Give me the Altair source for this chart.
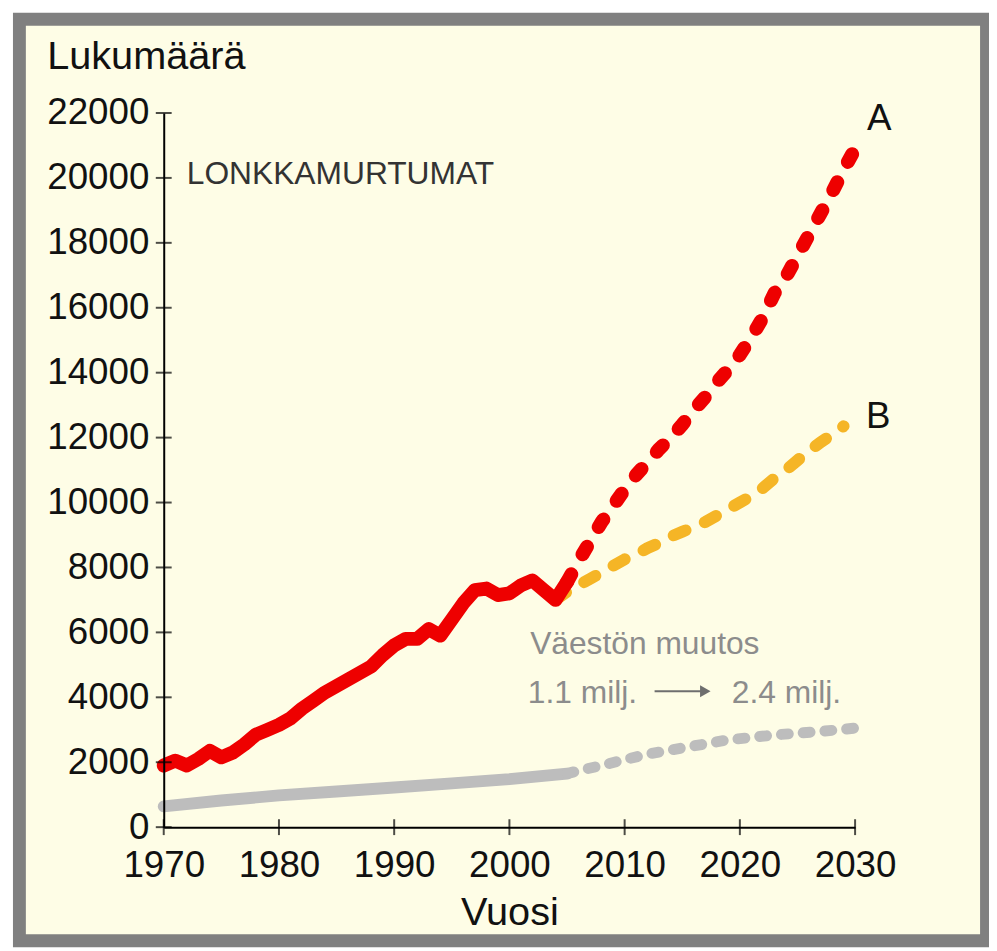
import altair as alt
import pandas as pd

# ---- data ----
years_hist = list(range(1970, 2006))
fractures_hist = [1900, 2050, 1900, 2100, 2350, 2150, 2300, 2550, 2850, 3000,
                  3150, 3350, 3650, 3900, 4150, 4350, 4550, 4750, 4950, 5300,
                  5600, 5800, 5800, 6100, 5900, 6400, 6900, 7300, 7350, 7150,
                  7200, 7450, 7600, 7300, 7000, 7550]

years_a = list(range(2005, 2031))
proj_a = [7550, 8200, 8800, 9400, 9900, 10400, 10850, 11250, 11650, 12000,
          12400, 12850, 13250, 13700, 14100, 14550, 15100, 15700, 16450, 16950,
          17600, 18250, 18900, 19550, 20250, 20900]

years_b = list(range(2004, 2030))
proj_b = [7000, 7250, 7450, 7650, 7850, 8050, 8250, 8400, 8600, 8750,
          8950, 9100, 9250, 9400, 9600, 9800, 10000, 10200, 10450, 10750,
          11000, 11300, 11600, 11850, 12100, 12350]

years_pop_hist = [1970, 1975, 1980, 1985, 1990, 1995, 2000, 2005]
pop_hist = [640, 820, 980, 1100, 1220, 1350, 1480, 1650]

years_pop_proj = [2005, 2006, 2008, 2010, 2012, 2015, 2019, 2023, 2027, 2030]
pop_proj = [1650, 1740, 1900, 2080, 2250, 2440, 2690, 2840, 2950, 3050]

x_ticks = [1970, 1980, 1990, 2000, 2010, 2020, 2030]
y_ticks = list(range(0, 22001, 2000))

# annotations: (text, x, y)
title_text = ("LONKKAMURTUMAT", 1972.0, 19800)
label_a = ("A", 2032.1, 21480)
label_b = ("B", 2032.0, 12310)
pop_title = ("Väestön muutos", 2001.8, 5347)
pop_from = ("1.1 milj.", 2001.6, 3819)
pop_to = ("2.4 milj.", 2019.3, 3819)
arrow_x = [2012.6, 2017.0]
arrow_y = 4186

FONT = "Liberation Sans"
W, H = 697, 720
BG = "#fefde6"
FRAME = "#808080"

xscale = alt.Scale(domain=[1970, 2030], nice=False, zero=False)
yscale = alt.Scale(domain=[0, 22000], nice=False)

xaxis = alt.Axis(values=x_ticks, ticks=False, tickSize=0, grid=False, zindex=2,
                 domainColor="black", domainWidth=2, format="d",
                 labelFont=FONT, labelFontSize=37, labelColor="#111111",
                 labelPadding=50, labelBaseline="alphabetic", labelFlush=False,
                 labelOverlap=False,
                 title="Vuosi", titleFont=FONT, titleFontSize=40,
                 titleFontWeight="normal", titleColor="#111111",
                 titleBaseline="alphabetic", titleAlign="center",
                 titleX=W / 2, titleY=98)
yaxis = alt.Axis(values=y_ticks, ticks=False, tickSize=0, grid=False, zindex=2,
                 domainColor="black", domainWidth=2, format="d",
                 labelFont=FONT, labelFontSize=37, labelColor="#111111",
                 labelPadding=15, labelBaseline="middle", labelFlush=False,
                 labelOverlap=False,
                 title="Lukumäärä", titleFont=FONT, titleFontSize=40,
                 titleFontWeight="normal", titleColor="#111111",
                 titleAngle=0, titleAlign="left", titleBaseline="alphabetic",
                 titleX=-118, titleY=-45)

X = alt.X("Vuosi:Q", scale=xscale, axis=xaxis)
Y = alt.Y("Lukumäärä:Q", scale=yscale, axis=yaxis)


def line_layer(years, values, color, width, dash=None):
    df = pd.DataFrame({"Vuosi": years, "Lukumäärä": values})
    kw = dict(color=color, strokeWidth=width, strokeCap="round", strokeJoin="round")
    if dash:
        kw["strokeDash"] = dash
    return alt.Chart(df).mark_line(**kw).encode(x=X, y=Y)


def text_layer(item, color, size, align="left"):
    t, xv, yv = item
    df = pd.DataFrame({"Vuosi": [xv], "Lukumäärä": [yv], "t": [t]})
    return alt.Chart(df).mark_text(font=FONT, fontSize=size, color=color,
                                   align=align, baseline="alphabetic").encode(
        x=X, y=Y, text="t:N")


frame = alt.Chart(alt.Data(values=[{}])).mark_rect(
    fill=BG, stroke=FRAME, strokeWidth=13
).encode(x=alt.value(-145.5), x2=alt.value(829.5),
         y=alt.value(-94.5), y2=alt.value(834.5))

gray_hist = line_layer(years_pop_hist, pop_hist, "#bdbdbd", 12)
gray_proj = line_layer(years_pop_proj, pop_proj, "#bdbdbd", 11, [7, 15])
yellow = line_layer(years_b, proj_b, "#f5b526", 12, [13, 21])
red_proj = line_layer(years_a, proj_a, "#ee0000", 14, [9, 23])
red_hist = line_layer(years_hist, fractures_hist, "#ee0000", 14)

xt = alt.Chart(pd.DataFrame({"Vuosi": x_ticks, "Lukumäärä": [0] * len(x_ticks)})).mark_tick(
    orient="vertical", size=16, thickness=2, color="black").encode(x=X, y=Y)
yt = alt.Chart(pd.DataFrame({"Vuosi": [1970] * len(y_ticks), "Lukumäärä": y_ticks})).mark_tick(
    orient="horizontal", size=16, thickness=2, color="black").encode(x=X, y=Y)

arrow_line = alt.Chart(pd.DataFrame({"Vuosi": [arrow_x[0]], "x2": [arrow_x[1]],
                                     "Lukumäärä": [arrow_y]})).mark_rule(
    color="#6e6e6e", strokeWidth=2).encode(x=X, x2="x2:Q", y=Y)
arrow_head = alt.Chart(pd.DataFrame({"Vuosi": [arrow_x[1]], "Lukumäärä": [arrow_y]})).mark_point(
    shape="triangle-right", filled=True, size=150, color="#6e6e6e", opacity=1).encode(x=X, y=Y)

texts = [
    text_layer(title_text, "#333333", 32),
    text_layer(label_a, "#111111", 37, "center"),
    text_layer(label_b, "#111111", 37, "center"),
    text_layer(pop_title, "#8c8c8c", 32),
    text_layer(pop_from, "#8c8c8c", 32),
    text_layer(pop_to, "#8c8c8c", 32),
]

chart = alt.layer(
    frame, gray_hist, gray_proj, yellow, red_proj, red_hist, xt, yt,
    arrow_line, arrow_head, *texts
).properties(
    width=W, height=H, background="white",
    padding={"left": 157, "top": 102, "right": 135, "bottom": 121},
    autosize=alt.AutoSizeParams(type="none"),
).configure_view(strokeOpacity=0)

chart.save("out.html", embed_options={"renderer": "svg", "actions": False})
